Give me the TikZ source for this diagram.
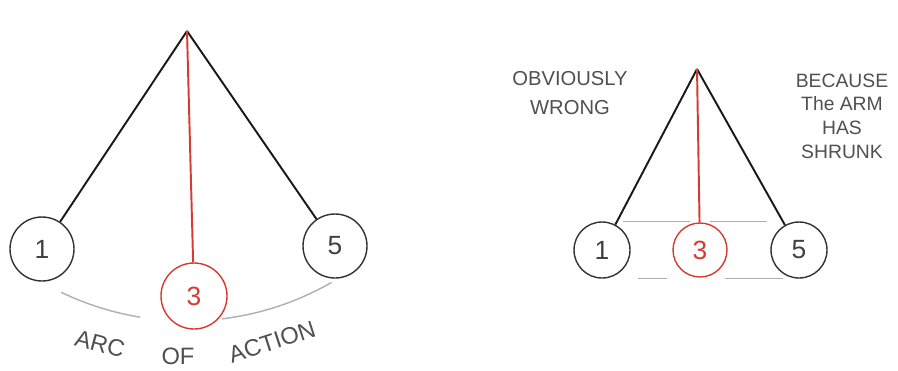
\documentclass[tikz,border=0pt]{standalone}
\usepackage{fontspec}
\setmainfont{Liberation Sans}
\usetikzlibrary{positioning}
\definecolor{sketchred}{RGB}{214,58,48}
\definecolor{pencil}{RGB}{80,80,80}
\definecolor{guidegray}{RGB}{175,175,175}

\begin{document}
\begin{tikzpicture}[x=0.02cm, y=0.02cm,
	ball/.style={circle, draw=black!80, line width=0.8pt, inner sep=0pt, text=black!75, font=\fontsize{15}{17}\selectfont},
	redball/.style={ball, draw=sketchred, text=sketchred},
	arm/.style={line width=1.1pt, black!90},
	redarm/.style={line width=1.1pt, sketchred},
	guide/.style={line width=0.8pt, guidegray},
	arcword/.style={text=pencil, inner sep=0pt, font=\fontsize{13.5}{15}\selectfont},
	note/.style={align=center, text=pencil, font=\fontsize{11}{13.5}\selectfont}]
	\useasboundingbox (0,0) rectangle (898,370);
	% left: the true arc
	\coordinate (pivL) at (187,339);
	\node[ball, minimum size=64*0.02cm] (l1) at (42,121) {1};
	\node[redball, minimum size=66*0.02cm] (l3) at (194,74) {3};
	\node[ball, minimum size=64*0.02cm] (l5) at (335,124) {5};
	\draw[arm] (pivL) -- (l1);
	\draw[arm] (pivL) -- (l5);
	\draw[redarm] (pivL) -- (l3);
	\draw[guide] (pivL) ++(244.3:290) arc[start angle=244.3, end angle=260.7, radius=290];
	\draw[guide] (pivL) ++(276.9:290) arc[start angle=276.9, end angle=299.9, radius=290];
	\node[arcword, rotate=-15] (arcw) at (100,26) {ARC};
	\node[arcword] (ofw) at (178,14) {OF};
	\node[arcword, rotate=18] (actw) at (272,28) {ACTION};
	% right: the straight line
	\coordinate (pivR) at (697,301);
	\node[ball, minimum size=56*0.02cm] (r1) at (602,120) {1};
	\node[redball, minimum size=54*0.02cm] (r3) at (700,120) {3};
	\node[ball, minimum size=56*0.02cm] (r5) at (799,120) {5};
	\draw[arm] (pivR) -- (r1);
	\draw[arm] (pivR) -- (r5);
	\draw[redarm] (pivR) -- (r3);
	\draw[guide] ([xshift=21*0.02cm]r1.north) -- ([xshift=-10*0.02cm]r1.north -| r3);
	\draw[guide] ([xshift=10*0.02cm]r1.north -| r3) -- ([xshift=-32*0.02cm]r5.north);
	\draw[guide] ([xshift=36*0.02cm]r1.south) -- ([xshift=-33*0.02cm]r1.south -| r3);
	\draw[guide] ([xshift=25*0.02cm]r1.south -| r3) -- ([xshift=-16*0.02cm]r5.south);
	\node[note, font=\fontsize{11.5}{16}\selectfont] (wrong) at (570,277) {OBVIOUSLY\\WRONG};
	\node[note] (because) at (842,254) {BECAUSE\\The ARM\\HAS\\SHRUNK};
\end{tikzpicture}
\end{document}
